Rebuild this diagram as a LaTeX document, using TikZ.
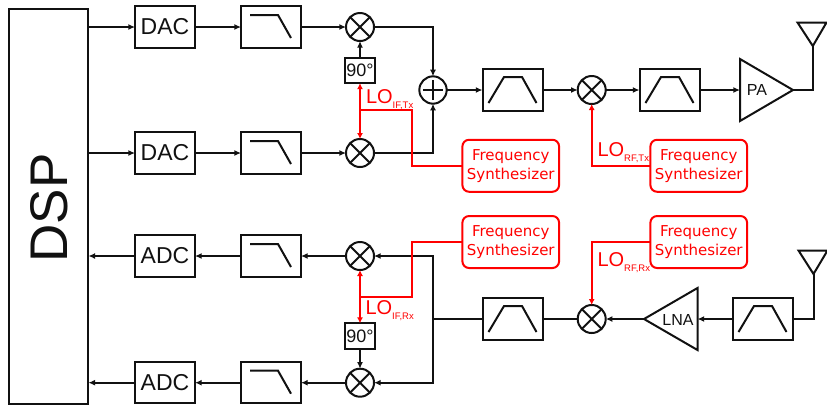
\documentclass[tikz,border=0pt]{standalone}
\usepackage{fontspec}
\setmainfont{Liberation Sans}
\newfontfamily\fsfont{DejaVu Sans}
\usetikzlibrary{arrows.meta}
\newcommand{\sized}[1]{\fontsize{\dimexpr#1pt*3/4\relax}{\dimexpr#1pt*19/20\relax}\selectfont}
\newcommand{\LOtext}[1]{LO{\sized{9.5}\raisebox{-4pt}{#1}}}
\definecolor{inkc}{HTML}{111111}
\tikzset{
  x=0.75pt,y=-0.75pt,
  every node/.style={outer sep=0pt,inner sep=0pt,text=inkc},
  wire/.style={line width=1.5pt,inkc},
  arrowed/.style={wire,-{Latex[length=5pt,width=4.5pt]}},
  redwire/.style={line width=1.5pt,red},
  redarrow/.style={redwire,-{Latex[length=4.5pt,width=4.5pt]}},
  redboth/.style={redwire,{Latex[length=4.5pt,width=4.5pt]}-{Latex[length=4.5pt,width=4.5pt]}},
  blockbox/.style={draw=inkc,line width=1.5pt,fill=white,minimum width=45pt,minimum height=31pt},
  convbox/.style={blockbox,font=\sized{23}},
  phasebox/.style={draw=inkc,line width=1.5pt,fill=white,minimum width=22.5pt,minimum height=19pt,font=\sized{18}},
  mixer/.style={circle,draw=inkc,line width=1.5pt,fill=white,minimum size=21pt},
  synth/.style={draw=red,line width=1.5pt,fill=white,rounded corners=5pt,minimum width=72.5pt,minimum height=39pt,align=center,text=red,font=\fsfont\sized{15}},
  lolabel/.style={anchor=base west,text=red,font=\sized{20}},
  icon/.style={line width=1.5pt,inkc},
  ampshape/.style={line width=1.5pt,inkc,line join=miter},
}
\newcommand{\lowpass}[1]{\draw[icon] ([shift={(-21,-12)}]#1.center) -- ++(28,0) -- ++(13,23);}
\newcommand{\bandpass}[1]{\draw[icon] ([shift={(-24,13)}]#1.center) -- ++(15.5,-26) -- ++(18,0) -- ++(14.5,26);}
\newcommand{\crossed}[1]{\draw[icon] (#1.45) -- (#1.225) (#1.135) -- (#1.315);}
\begin{document}
\begin{tikzpicture}
\useasboundingbox (0,0) rectangle (827,405);
% DSP
\node[draw=inkc,line width=1.5pt,minimum width=59.5pt,minimum height=296pt] (dsp) at (48.75,206.75) {};
\node[rotate=90,font=\sized{53}] (dsplabel) at (49,208) {DSP};
% Converters
\node[convbox] (dac1) at (165,27) {DAC};
\node[convbox] (dac2) at (165,153) {DAC};
\node[convbox] (adc1) at (165,256) {ADC};
\node[convbox] (adc2) at (165,382.7) {ADC};
% Low pass
\node[blockbox] (lpa) at (271,27) {};
\node[blockbox] (lpb) at (271,153) {};
\node[blockbox] (lpc) at (271,256) {};
\node[blockbox] (lpd) at (271,382.7) {};
\lowpass{lpa}\lowpass{lpb}\lowpass{lpc}\lowpass{lpd}
% Mixers
\node[mixer] (ma) at (360,27) {};
\node[mixer] (mb) at (360,153) {};
\node[mixer] (mc) at (360,256) {};
\node[mixer] (md) at (360,382.7) {};
\node[mixer] (mtx) at (591.7,90) {};
\node[mixer] (mrx) at (591.7,319) {};
\crossed{ma}\crossed{mb}\crossed{mc}\crossed{md}\crossed{mtx}\crossed{mrx}
% Phase shifters
\node[phasebox] (pa) at (360,70.5) {90°};
\node[phasebox] (pb) at (360,336) {90°};
% Sum
\node[mixer,minimum size=20.5pt] (sum) at (433,90) {};
\draw[icon] ([xshift=-7.5]sum.center) -- ([xshift=7.5]sum.center) ([yshift=-7.5]sum.center) -- ([yshift=7.5]sum.center);
% Band pass
\node[blockbox] (bpa) at (512.5,90) {};
\node[blockbox] (bpb) at (669.5,90) {};
\node[blockbox] (bpc) at (512.5,319) {};
\node[blockbox] (bpd) at (762.5,319) {};
\bandpass{bpa}\bandpass{bpb}\bandpass{bpc}\bandpass{bpd}
% Amplifiers
\coordinate (patip) at (793,90);
\coordinate (pain) at (740,90);
\draw[ampshape] (740,59) -- (patip) -- (740,121) -- cycle;
\node[font=\sized{16}] (palabel) at (757,90) {PA};
\coordinate (lnatip) at (644,319);
\coordinate (lnain) at (697.5,319);
\draw[ampshape] (697.5,288) -- (lnatip) -- (697.5,350) -- cycle;
\node[font=\sized{16}] (lnalabel) at (678,319.5) {LNA};
% Antennas
\coordinate (anta) at (812.8,46);
\coordinate (antb) at (813.5,274);
\draw[ampshape] (797.5,22.5) -- (826.5,22.5) -- (anta) -- cycle;
\draw[ampshape] (798.5,250.5) -- (827.5,250.5) -- (antb) -- cycle;
% Synthesizers
\node[synth] (fsa) at (510.75,165.75) {Frequency\\Synthesizer};
\node[synth] (fsb) at (698.75,165.75) {Frequency\\Synthesizer};
\node[synth] (fsc) at (510.75,242) {Frequency\\Synthesizer};
\node[synth] (fsd) at (698.75,242) {Frequency\\Synthesizer};
% TX chain
\draw[arrowed] (dsp.east |- dac1) -- (dac1);
\draw[arrowed] (dsp.east |- dac2) -- (dac2);
\draw[arrowed] (dac1) -- (lpa);
\draw[arrowed] (dac2) -- (lpb);
\draw[arrowed] (lpa) -- (ma);
\draw[arrowed] (lpb) -- (mb);
\draw[arrowed] (pa) -- (ma);
\draw[arrowed] (ma) -| (sum);
\draw[arrowed] (mb) -| (sum);
\draw[arrowed] (sum) -- (bpa);
\draw[arrowed] (bpa) -- (mtx);
\draw[arrowed] (mtx) -- (bpb);
\draw[arrowed] (bpb) -- (pain);
\draw[wire] (patip) -| (anta);
% RX chain
\draw[wire] (antb) |- (bpd);
\draw[arrowed] (bpd) -- (lnain);
\draw[arrowed] (lnatip) -- (mrx);
\draw[wire] (mrx) -- (bpc);
\coordinate (bus) at (433,319);
\draw[wire] (bpc) -- (bus);
\draw[arrowed] (bus) |- (mc);
\draw[arrowed] (bus) |- (md);
\draw[arrowed] (mc) -- (lpc);
\draw[arrowed] (md) -- (lpd);
\draw[arrowed] (lpc) -- (adc1);
\draw[arrowed] (lpd) -- (adc2);
\draw[arrowed] (adc1) -- (dsp.east |- adc1);
\draw[arrowed] (adc2) -- (dsp.east |- adc2);
\draw[arrowed] (pb) -- (md);
% LO routing
\draw[redboth] (pa) -- (mb);
\coordinate (tapa) at (360,110);
\coordinate (benda) at (412,110);
\draw[redwire] (tapa) -- (benda) |- (fsa);
\draw[redboth] (mc) -- (pb);
\coordinate (tapc) at (360,297);
\coordinate (bendc) at (412,297);
\draw[redwire] (tapc) -- (bendc) |- (fsc);
\draw[redarrow] (fsb) -| (mtx);
\draw[redarrow] (fsd) -| (mrx);
% LO labels
\node[lolabel] (loa) at (366,103) {\LOtext{IF,Tx}};
\node[lolabel] (lob) at (597.5,156) {\LOtext{RF,Tx}};
\node[lolabel] (loc) at (365.5,314) {\LOtext{IF,Rx}};
\node[lolabel] (lod) at (597.5,266) {\LOtext{RF,Rx}};
\end{tikzpicture}
\end{document}
